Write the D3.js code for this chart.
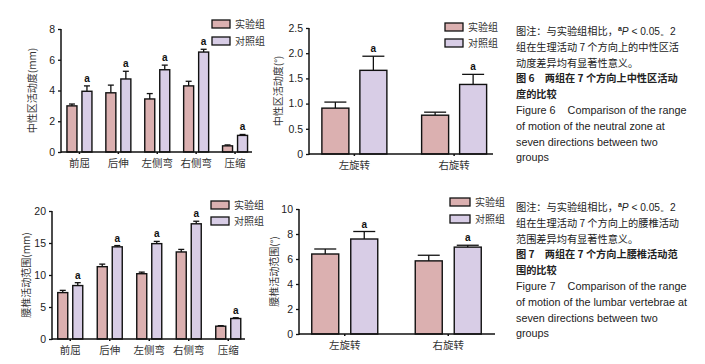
<!DOCTYPE html>
<html>
<head>
<meta charset="utf-8">
<script src="https://cdn.jsdelivr.net/npm/d3@7"></script>
<style>
  body { margin: 0; background: #fff; }
  svg { display: block; }
  text { font-family: "Liberation Sans", Arial, sans-serif; white-space: pre; }
  .cjk { font-family: "Noto Sans CJK SC", sans-serif; }
</style>
</head>
<body>
<script>
// data
var dirs5 = ["前屈", "后伸", "左侧弯", "右侧弯", "压缩"];
var dirs2 = ["左旋转", "右旋转"];
var groups = ["实验组", "对照组"];

// figure 6 - neutral zone
var nzExp = [3.0, 3.85, 3.45, 4.3, 0.4];
var nzExpErr = [0.12, 0.5, 0.35, 0.3, 0.06];
var nzCtrl = [3.95, 4.75, 5.35, 6.5, 1.08];
var nzCtrlErr = [0.35, 0.5, 0.3, 0.18, 0.06];
var nzRotExp = [0.91, 0.77];
var nzRotExpErr = [0.12, 0.06];
var nzRotCtrl = [1.66, 1.38];
var nzRotCtrlErr = [0.28, 0.2];

// figure 7 - lumbar range of motion
var romExp = [7.25, 11.3, 10.2, 13.6, 2.0];
var romExpErr = [0.35, 0.4, 0.25, 0.4, 0.08];
var romCtrl = [8.35, 14.4, 14.9, 18.0, 3.2];
var romCtrlErr = [0.45, 0.2, 0.35, 0.4, 0.12];
var romRotExp = [6.4, 5.85];
var romRotExpErr = [0.4, 0.45];
var romRotCtrl = [7.6, 6.95];
var romRotCtrlErr = [0.6, 0.15];

var ticks1 = [0, 2, 4, 6, 8];
var ticks2 = [0, 0.5, 1.0, 1.5, 2.0, 2.5];
var ticks3 = [0, 5, 10, 15, 20];
var ticks4 = [0, 2, 4, 6, 8, 10];

var caption6 = ["图注：与实验组相比，", "组在生理活动 7 个方向上的中性区活", "动度差异均有显著性意义。",
  "图 6　两组在 7 个方向上中性区活动", "度的比较",
  "Figure 6    Comparison of the range", "of motion of the neutral zone at", "seven directions between two", "groups"];
var caption7 = ["图注：与实验组相比，", "组在生理活动 7 个方向上的腰椎活动", "范围差异均有显著性意义。",
  "图 7　两组在 7 个方向上腰椎活动范", "围的比较",
  "Figure 7    Comparison of the range", "of motion of the lumbar vertebrae at", "seven directions between two", "groups"];

var colors = ["#dbb0b0", "#d8cde6"];

var svg = d3.select("body").append("svg")
    .attr("width", 705)
    .attr("height", 364);

function drawPanel(p) {
  var g = svg.append("g");

  var y = d3.scaleLinear().domain([0, p.max]).range([p.y0, p.y1]);
  var x = d3.scaleBand().domain(p.cats).range([p.xb0, p.xb1]);
  var half = p.barW + p.gap / 2;

  // bars, error bars, significance letters
  var series = [
    {vals: p.exp, err: p.expErr, off: -half, fill: colors[0], sig: false},
    {vals: p.ctrl, err: p.ctrlErr, off: p.gap / 2, fill: colors[1], sig: true}
  ];
  series.forEach(function(s) {
    p.cats.forEach(function(c, i) {
      var cx = x(c) + x.bandwidth() / 2 + s.off;
      var top = y(s.vals[i] + s.err[i]);
      g.append("line")
        .attr("x1", cx + p.barW / 2).attr("x2", cx + p.barW / 2)
        .attr("y1", y(s.vals[i])).attr("y2", top)
        .attr("stroke", "#111").attr("stroke-width", 1.3);
      g.append("line")
        .attr("x1", cx + p.barW / 2 - p.cap).attr("x2", cx + p.barW / 2 + p.cap)
        .attr("y1", top).attr("y2", top)
        .attr("stroke", "#111").attr("stroke-width", 1.3);
      g.append("rect")
        .attr("x", cx).attr("y", y(s.vals[i]))
        .attr("width", p.barW).attr("height", y(0) - y(s.vals[i]))
        .attr("fill", s.fill).attr("stroke", "#111").attr("stroke-width", 1.4);
      if (s.sig) {
        g.append("text")
          .attr("x", cx + p.barW / 2).attr("y", top - 4)
          .attr("text-anchor", "middle")
          .attr("font-size", 10).attr("font-weight", "bold")
          .attr("fill", "#111")
          .text("a");
      }
    });
  });

  // y axis
  var yAxis = d3.axisLeft(y).tickValues(p.ticks).tickSize(3).tickPadding(3)
    .tickFormat(p.fmt);
  var ya = g.append("g")
    .attr("transform", "translate(" + p.ax + ",0)")
    .call(yAxis);
  ya.select(".domain").attr("stroke", "#111").attr("stroke-width", 1.5)
    .attr("d", "M0," + (p.y0 + 1) + "V" + p.y1);
  ya.selectAll(".tick line").attr("stroke", "#111").attr("stroke-width", 1.3);
  ya.selectAll(".tick text").attr("font-size", 10.5).attr("fill", "#222")
    .style("font-family", "Liberation Sans, Arial, sans-serif");

  // x axis
  var xAxis = d3.axisBottom(x).tickSize(2).tickPadding(6);
  var xa = g.append("g")
    .attr("transform", "translate(0," + p.y0 + ")")
    .call(xAxis);
  xa.select(".domain").attr("stroke", "#111").attr("stroke-width", 1.5)
    .attr("d", "M" + p.ax + ",0H" + p.axEnd);
  xa.selectAll(".tick line").attr("stroke", "#111").attr("stroke-width", 1.5);
  xa.selectAll(".tick text").attr("font-size", 10.5).attr("fill", "#333")
    .attr("class", "cjk").style("font-family", "Noto Sans CJK SC, sans-serif");

  // y label
  g.append("text")
    .attr("class", "cjk")
    .attr("transform", "translate(" + p.labX + "," + ((p.y0 + p.y1) / 2) + ") rotate(-90)")
    .attr("text-anchor", "middle")
    .attr("font-size", 10).attr("fill", "#333")
    .text(p.label);

  // legend
  groups.forEach(function(name, i) {
    g.append("rect")
      .attr("x", p.legX).attr("y", p.legY + i * p.legStep)
      .attr("width", p.legW).attr("height", 8)
      .attr("fill", colors[i]).attr("stroke", "#111").attr("stroke-width", 1.3);
    g.append("text")
      .attr("class", "cjk")
      .attr("x", p.legX + p.legW + 5).attr("y", p.legY + i * p.legStep + 8)
      .attr("font-size", 10).attr("fill", "#333")
      .text(name);
  });
}

function drawCaption(lines, fig, x, y0, step) {
  var t = svg.append("g");
  lines.forEach(function(l, i) {
    var txt = t.append("text")
      .attr("x", x).attr("y", y0 + i * step)
      .attr("font-size", i < 5 ? 10.2 : 10.8)
      .attr("fill", "#222")
      .attr("class", i < 5 ? "cjk" : null)
      .attr("font-weight", (i === 3 || i === 4) ? "bold" : null);
    if (i === 0) {
      txt.append("tspan").text(l);
      txt.append("tspan").attr("font-size", 7).attr("dy", -4).attr("font-weight", "bold")
        .style("font-family", "Liberation Sans, Arial, sans-serif").text("a");
      txt.append("tspan").attr("dy", 4).attr("font-style", "italic")
        .style("font-family", "Liberation Sans, Arial, sans-serif").text("P");
      txt.append("tspan").style("font-family", "Liberation Sans, Arial, sans-serif")
        .text(" < 0.05。2");
    } else {
      txt.text(l);
    }
  });
}

var fmtInt = d3.format("d");
var fmtDec = function(d) { return d === 0 ? "0" : d3.format(".1f")(d); };

drawPanel({cats: dirs5, exp: nzExp, expErr: nzExpErr, ctrl: nzCtrl, ctrlErr: nzCtrlErr,
  max: 8, ticks: ticks1, fmt: fmtInt, y0: 152, y1: 29, xb0: 60, xb1: 254.5,
  ax: 61, axEnd: 252, barW: 10, gap: 5, cap: 3,
  label: "中性区活动度(mm)", labX: 36, legX: 212, legY: 20, legStep: 17, legW: 18});

drawPanel({cats: dirs2, exp: nzRotExp, expErr: nzRotExpErr, ctrl: nzRotCtrl, ctrlErr: nzRotCtrlErr,
  max: 2.5, ticks: ticks2, fmt: fmtDec, y0: 154, y1: 28, xb0: 304.5, xb1: 504,
  ax: 309, axEnd: 493, barW: 27, gap: 11, cap: 11,
  label: "中性区活动度(°)", labX: 282, legX: 445, legY: 23, legStep: 16, legW: 18});

drawPanel({cats: dirs5, exp: romExp, expErr: romExpErr, ctrl: romCtrl, ctrlErr: romCtrlErr,
  max: 20, ticks: ticks3, fmt: fmtInt, y0: 339, y1: 211, xb0: 50.5, xb1: 248,
  ax: 52, axEnd: 245, barW: 10, gap: 5, cap: 3,
  label: "腰椎活动范围(mm)", labX: 30, legX: 211, legY: 201, legStep: 16, legW: 18});

drawPanel({cats: dirs2, exp: romRotExp, expErr: romRotExpErr, ctrl: romRotCtrl, ctrlErr: romRotCtrlErr,
  max: 10, ticks: ticks4, fmt: fmtInt, y0: 334, y1: 209, xb0: 293, xb1: 500,
  ax: 299, axEnd: 495, barW: 27, gap: 12, cap: 11,
  label: "腰椎活动范围(°)", labX: 278, legX: 450, legY: 198, legStep: 17, legW: 20});

drawCaption(caption6, 6, 516, 35, 15.8);
drawCaption(caption7, 7, 516, 211, 15.8);
</script>
</body>
</html>
